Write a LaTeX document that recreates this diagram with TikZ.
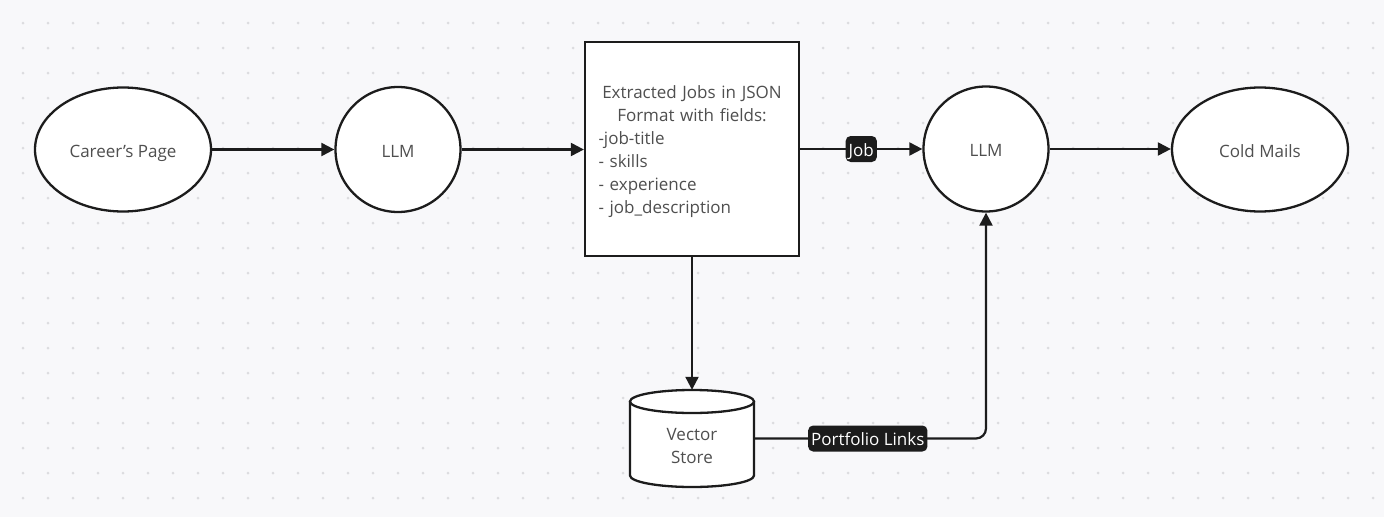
\documentclass[tikz,border=0pt]{standalone}
\usepackage{fontspec}
\setmainfont{Open Sans}
\usetikzlibrary{arrows.meta,shapes.geometric}
\definecolor{bgc}{HTML}{F8F8FA}
\definecolor{dotc}{HTML}{DCDCDF}
\definecolor{linec}{HTML}{1C1C1C}
\definecolor{txtc}{HTML}{4F4F4F}
\tikzset{
  shp/.style={draw=linec, line width=2.3pt, fill=white, text=txtc, inner sep=0pt, text height=15.2pt, text depth=0pt, font=\fontsize{17}{23}\selectfont},
  ovalnode/.style={shp, ellipse, minimum width=176pt, minimum height=124pt},
  circnode/.style={shp, circle, minimum size=125pt},
  boxnode/.style={shp, rectangle, minimum width=214pt, minimum height=214pt},
  conn/.style={draw=linec, line width=2.2pt, -{Triangle[length=13pt,width=13pt]}},
  tag/.style={fill=linec, text=white, rounded corners=5pt, inner xsep=3pt, inner ysep=0pt, minimum height=26pt, text height=14.5pt, text depth=0pt, font=\fontsize{17}{18}\selectfont},
  txt/.style={text=txtc, inner sep=0pt, font=\fontsize{17}{23}\selectfont}
}
\begin{document}
\begin{tikzpicture}[x=1pt,y=-1pt]
\fill[bgc] (0,0) rectangle (1384,517);
\useasboundingbox (0,0) rectangle (1384,517);
\foreach \i in {0,...,54} {\foreach \j in {0,...,19} {\fill[dotc] (23+25*\i,23+25*\j) circle[radius=1.5pt];}}
\node[ovalnode] (cp) at (123,149.5) {Career’s Page};
\node[circnode] (llm1) at (398,149.5) {LLM};
\node[boxnode] (ej) at (692,149) {};
\node[txt, text width=187pt, align=left] (ejt) at (692,151.5) {{\centering Extracted Jobs in JSON\\Format with fields:\par}-job-title\\- skills\\- experience\\- job\_description};
\node[circnode] (llm2) at (986,149) {LLM};
\node[ovalnode] (cm) at (1260,149.5) {Cold Mails};
% vector store cylinder
\node[inner sep=0pt, minimum width=124pt, minimum height=97pt] (vs) at (692,438.5) {};
\draw[linec, line width=2.3pt, fill=white] (630,401.5) -- (630,475.5) arc[start angle=180, end angle=360, x radius=62pt, y radius=11.5pt] -- (754,401.5);
\draw[linec, line width=2.3pt, fill=white] (692,401.5) ellipse[x radius=62pt, y radius=11.5pt];
\node[txt, align=center] (vst) at (692,446) {Vector\\Store};
% connectors
\draw[conn] (cp) -- (llm1);
\draw[conn] (llm1) -- (ej.west |- llm1);
\draw[conn] (ej.east |- llm2) -- node[tag] (jobtag) {Job} (llm2);
\draw[conn] (llm2) -- (cm.west |- llm2);
\draw[conn] (ej.south) -- (vs.north);
\draw[conn, rounded corners=10pt] (vs.east) -| node[tag, pos=0.245] (pltag) {Portfolio Links} (llm2.south);
\end{tikzpicture}
\end{document}
